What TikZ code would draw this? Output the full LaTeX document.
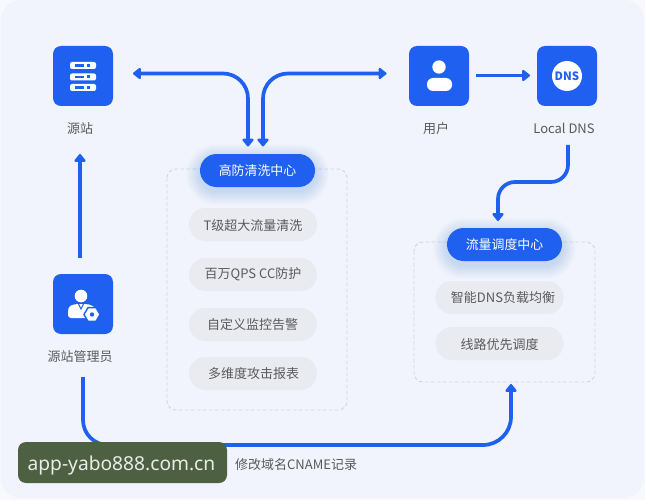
\documentclass[tikz,border=0pt]{standalone}
\usepackage{fontspec}
\setmainfont{Noto Sans CJK SC}
\newfontfamily\latinwm{Noto Sans}
\usetikzlibrary{arrows.meta,shapes.geometric}
\definecolor{brand}{HTML}{1F60F0}
\definecolor{panel}{HTML}{F1F4FC}
\definecolor{pillgray}{HTML}{E9EBF0}
\definecolor{txt}{HTML}{5A5A5A}
\definecolor{dash}{HTML}{CFD2D8}
\definecolor{wm}{HTML}{4D6041}
\tikzset{
  x=1pt,y=-1pt,
  iconbox/.style={fill=brand,rounded corners=8pt,minimum width=60pt,minimum height=60pt,inner sep=0pt},
  lab/.style={text=txt,font=\fontsize{13pt}{14pt}\selectfont,inner sep=0pt},
  itempill/.style={fill=pillgray,rounded corners=16.5pt,minimum width=128pt,minimum height=33pt,inner sep=0pt},
  itemtext/.style={text=txt,font=\fontsize{13pt}{14pt}\selectfont,inner sep=0pt},
  headpill/.style={fill=brand,text=white,rounded corners=16.5pt,minimum width=115pt,minimum height=33pt,inner sep=0pt,font=\fontsize{12.9pt}{14pt}\selectfont},
  group/.style={draw=dash,dashed,line width=0.8pt,rounded corners=9pt,dash pattern=on 3.5pt off 2.5pt},
  flow/.style={draw=brand,line width=3.7pt,-{Triangle[width=13pt,length=8.5pt,round]}},
  flowboth/.style={draw=brand,line width=3.7pt,{Triangle[width=13pt,length=8.5pt,round]}-{Triangle[width=13pt,length=8.5pt,round]}},
  glow/.style={fill=brand,opacity=0.01},
}
\begin{document}
\begin{tikzpicture}
\useasboundingbox (0,0) rectangle (645,500);
\fill[white!50!panel] (0,0) rectangle (645,500);
\fill[panel] (1,0) [rounded corners=20pt] -- (644,0) -- (644,498) -- (1,498) -- cycle;
% dashed groups
\draw[group] (167,169) rectangle (347,410);
\draw[group] (414,242) rectangle (595,382);
% icon boxes
\node[iconbox] (src) at (83,76) {};
\node[iconbox] (usr) at (439,76) {};
\node[iconbox] (dns) at (567,76) {};
\node[iconbox] (adm) at (83,304) {};
% labels
\node[lab] (srcl) at (80,128.5) {源站};
\node[lab] (usrl) at (436,128.5) {用户};
\node[lab] (dnsl) at (564,128.5) {Local DNS};
\node[lab] (adml) at (80,357) {源站管理员};
\node[lab,anchor=west] (cname) at (235,464.5) {修改域名CNAME记录};
% server icon
\foreach \y in {62,73.5,84}{
  \fill[white,rounded corners=2pt] (70,\y) rectangle (96,\y+7);
  \fill[brand] (75,\y+2.3) rectangle (84,\y+4.7);
  \fill[brand] (87,\y+2) rectangle (90,\y+5);
}
% user icon
\fill[white] (439,67) circle (6.7);
\fill[white,rounded corners=6pt] (427,91) -- (427,78) -- (452,78) -- (452,91) -- cycle;
% dns icon
\fill[white] (567,76) circle (15);
\node[text=brand,font=\fontsize{11.5pt}{12pt}\selectfont\bfseries,inner sep=0pt] (dnsi) at (567,76) {DNS};
% admin icon
\fill[white] (81,296) circle (6.3);
\fill[white,rounded corners=3pt] (68,318) -- (68,311) .. controls (69,306) and (72,305) .. (76,304) -- (86,304) .. controls (92,305) and (94,307) .. (96,310) -- (90,318) -- cycle;
\draw[brand,line width=1pt] (78.5,304) -- (81,309) -- (83.5,304);
\node[regular polygon,regular polygon sides=6,fill=white,draw=brand,line width=1.4pt,minimum size=16pt,inner sep=0pt] (gear) at (92,314.5) {};
\fill[brand] (92,314.5) circle (2.2);
% glows and head pills
\foreach \g in {1,2,...,14}{
  \fill[glow,rounded corners=16.5pt+\g pt] (200-\g,154+4-\g) rectangle (315+\g,187+4+\g);
  \fill[glow,rounded corners=16.5pt+\g pt] (447-\g,228+4-\g) rectangle (562+\g,261+4+\g);
}
\node[headpill] (hf) at (257.5,170.5) {高防清洗中心};
\node[headpill] (ll) at (504.5,244.5) {流量调度中心};
% item pills
\node[itempill] (a1) at (253,224.5) {};
\node[itemtext] at (253,225.5) {T级超大流量清洗};
\node[itempill] (a2) at (253,274.5) {};
\node[itemtext] at (253,274.5) {百万QPS CC防护};
\node[itempill] (a3) at (253,324.5) {};
\node[itemtext] at (252.5,325) {自定义监控告警};
\node[itempill] (a4) at (253,373.5) {};
\node[itemtext] at (253.6,374) {多维度攻击报表};
\node[itempill] (b1) at (499.5,297.5) {};
\node[itemtext] at (503,298) {智能DNS负载均衡};
\node[itempill] (b2) at (499.5,343.5) {};
\node[itemtext] at (499.5,344.5) {线路优先调度};
% connector ends
\coordinate (hfl) at (248,146.5);
\coordinate (hfr) at (263,146.5);
\coordinate (srcr) at (133,73.5);
\coordinate (usrl2) at (386.5,73.5);
\coordinate (usrr) at (476,75.5);
\coordinate (dnsle) at (530,75.5);
\coordinate (admt) at (80,258);
\coordinate (srcb) at (80,154);
\coordinate (dnsb) at (568,145);
\coordinate (llt) at (498,221);
\coordinate (admb) at (83,377);
\coordinate (bbot) at (511,384);
% connectors
\draw[flowboth,rounded corners=25pt] (srcr) -- (248,73.5) -- (hfl);
\draw[flowboth,rounded corners=25pt] (usrl2) -- (263,73.5) -- (hfr);
\draw[flow] (usrr) -- (dnsle);
\draw[flow] (admt) -- (srcb);
\draw[flow] (dnsb) -- (568,165) arc[start angle=0,end angle=90,radius=17] -- (515,182) arc[start angle=-90,end angle=-180,radius=17] -- (llt);
\draw[flow] (admb) -- (83,420) arc[start angle=180,end angle=90,radius=25] -- (483,445) arc[start angle=90,end angle=0,radius=28] -- (bbot);
% watermark
\node[fill=wm,rounded corners=8pt,minimum width=209pt,minimum height=41pt,inner sep=0pt] (mark) at (122.5,462.5) {};
\node[text=white!88!wm,font=\latinwm\fontsize{19.2pt}{20pt}\selectfont,inner sep=0pt] (marktext) at (121.5,465.5) {app-yabo888.com.cn};
\end{tikzpicture}
\end{document}
